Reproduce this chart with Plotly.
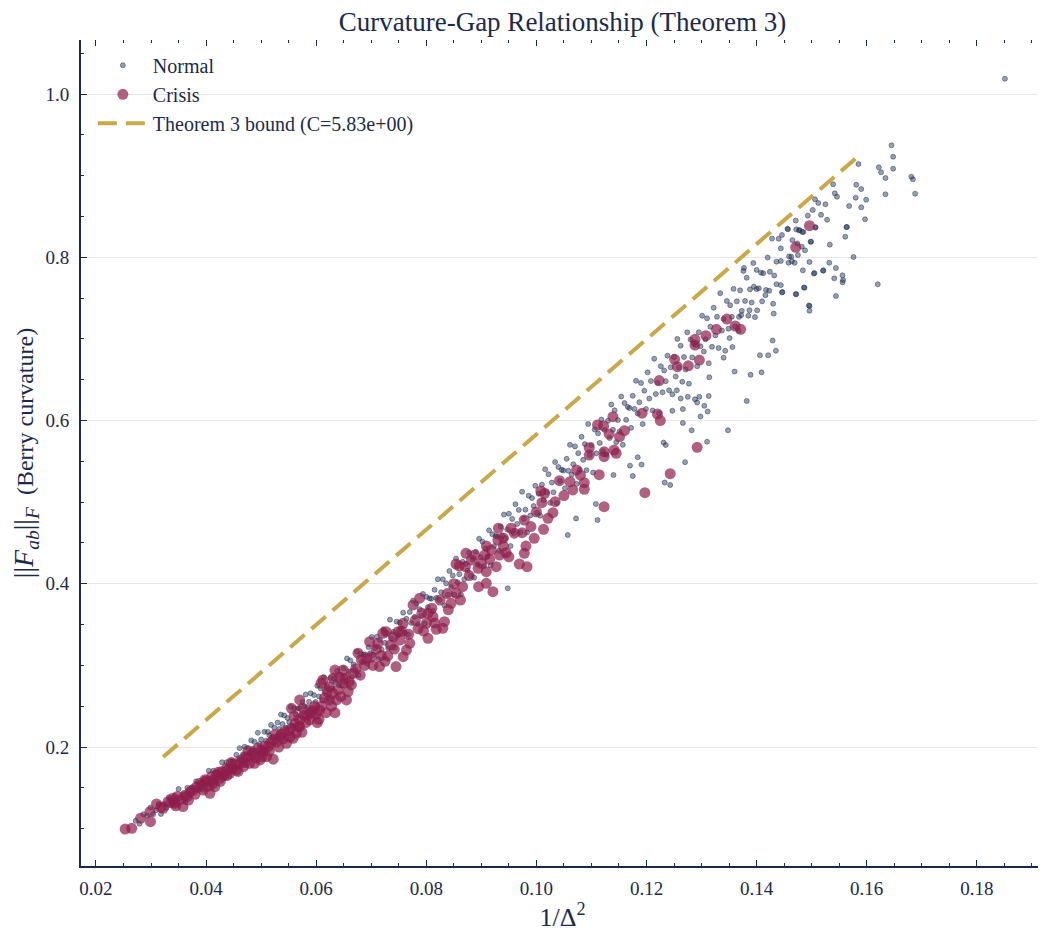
import plotly.graph_objects as go

# ---------------- data ----------------
# main band of normal observations
normal_x = [
    0.0272, 0.0279, 0.0286, 0.0293, 0.0299,
    0.0304, 0.0309, 0.0314, 0.0318, 0.0323, 0.0328, 0.0332, 0.0337, 0.0341, 0.0346,
    0.0350, 0.0354, 0.0358, 0.0362, 0.0366, 0.0370, 0.0374, 0.0378, 0.0382, 0.0386, 0.0390, 0.0394, 0.0397,
    0.0401, 0.0405, 0.0409, 0.0413, 0.0417, 0.0421, 0.0425, 0.0429, 0.0433, 0.0437, 0.0441, 0.0445, 0.0448,
    0.0452, 0.0455, 0.0458, 0.0461, 0.0464, 0.0467, 0.0470, 0.0473, 0.0476, 0.0479, 0.0482, 0.0485, 0.0488, 0.0491, 0.0494, 0.0497,
    0.0500, 0.0503, 0.0506, 0.0509, 0.0512, 0.0515, 0.0518, 0.0521, 0.0524, 0.0527, 0.0530, 0.0533, 0.0536, 0.0539, 0.0542, 0.0545, 0.0548,
    0.0551, 0.0554, 0.0557, 0.0560, 0.0563, 0.0566, 0.0569, 0.0572, 0.0575, 0.0578, 0.0581, 0.0584, 0.0587, 0.0590, 0.0593, 0.0596, 0.0599,
    0.0602, 0.0605, 0.0608, 0.0611, 0.0614, 0.0617, 0.0620, 0.0623, 0.0626, 0.0629, 0.0632, 0.0635, 0.0638, 0.0641, 0.0644, 0.0647,
    0.0650, 0.0653, 0.0656, 0.0659, 0.0662, 0.0665, 0.0668, 0.0671, 0.0674, 0.0677, 0.0680, 0.0683, 0.0686, 0.0689, 0.0692, 0.0695, 0.0698,
    0.0701, 0.0704, 0.0707, 0.0710, 0.0713, 0.0716, 0.0719, 0.0722, 0.0725, 0.0728, 0.0731, 0.0734, 0.0737, 0.0740, 0.0743, 0.0746, 0.0749,
    0.0752, 0.0755, 0.0758, 0.0761, 0.0764, 0.0767, 0.0770, 0.0773, 0.0776, 0.0779, 0.0782, 0.0785, 0.0788, 0.0791, 0.0794, 0.0797,
    0.0800, 0.0803, 0.0806, 0.0809, 0.0812, 0.0815, 0.0818, 0.0821, 0.0824, 0.0827, 0.0830, 0.0833, 0.0836, 0.0839, 0.0842, 0.0845, 0.0848,
    0.0851, 0.0854, 0.0857, 0.0860, 0.0863, 0.0866, 0.0869, 0.0872, 0.0875, 0.0878, 0.0881, 0.0884, 0.0887, 0.0890, 0.0893, 0.0896, 0.0899,
    0.0902, 0.0905, 0.0908, 0.0911, 0.0914, 0.0917, 0.0920, 0.0923, 0.0926, 0.0929, 0.0932, 0.0935, 0.0938, 0.0941, 0.0944, 0.0947,
    0.0950, 0.0953, 0.0956, 0.0959, 0.0962, 0.0965, 0.0968, 0.0971, 0.0974, 0.0977, 0.0980, 0.0983, 0.0986, 0.0989, 0.0992, 0.0995, 0.0998,
    0.1001, 0.1004, 0.1007, 0.1010, 0.1013, 0.1016, 0.1019, 0.1022, 0.1025, 0.1028, 0.1031, 0.1034, 0.1037, 0.1040, 0.1043, 0.1046, 0.1049,
    0.1052, 0.1055, 0.1058, 0.1061, 0.1064, 0.1067, 0.1070, 0.1073, 0.1076, 0.1079, 0.1082, 0.1085, 0.1088, 0.1091, 0.1094, 0.1097,
    0.1100, 0.1103, 0.1106, 0.1109, 0.1112, 0.1115, 0.1118, 0.1121, 0.1124, 0.1127, 0.1130, 0.1133, 0.1136, 0.1139, 0.1142, 0.1145, 0.1148,
    0.1151, 0.1154, 0.1157, 0.1160, 0.1163, 0.1166, 0.1169, 0.1172, 0.1175, 0.1178, 0.1181, 0.1184, 0.1187, 0.1190, 0.1193, 0.1196, 0.1199,
    0.1202, 0.1205, 0.1208, 0.1211, 0.1214, 0.1217, 0.1220, 0.1223, 0.1226, 0.1229, 0.1232, 0.1235, 0.1238, 0.1241, 0.1244, 0.1247,
    0.1250, 0.1253, 0.1256, 0.1259, 0.1262, 0.1265, 0.1268, 0.1271, 0.1274, 0.1277, 0.1280, 0.1283, 0.1286, 0.1289, 0.1292, 0.1295, 0.1298,
    0.1301, 0.1304, 0.1307, 0.1310, 0.1313, 0.1316, 0.1319, 0.1322, 0.1325, 0.1328, 0.1331, 0.1334, 0.1337, 0.1340, 0.1343, 0.1346, 0.1349,
    0.1352, 0.1355, 0.1358, 0.1361, 0.1364, 0.1367, 0.1370, 0.1373, 0.1376, 0.1379, 0.1382, 0.1385, 0.1388, 0.1391, 0.1394, 0.1397,
    0.1400, 0.1404, 0.1408, 0.1412, 0.1416, 0.1420, 0.1424, 0.1428, 0.1432, 0.1436, 0.1440, 0.1444,
    # points below the band
    0.0948, 0.1057, 0.1072, 0.1108, 0.1111, 0.1140, 0.1170, 0.1175, 0.1184, 0.1191,
    0.1231, 0.1233, 0.1235, 0.1243, 0.1247, 0.1255, 0.1262, 0.1266, 0.1266, 0.1270,
    0.1275, 0.1282, 0.1288, 0.1292, 0.1296, 0.1298, 0.1305, 0.1310, 0.1311, 0.1313,
    0.1314, 0.1340, 0.1348, 0.1351, 0.1356, 0.1360, 0.1382, 0.1389, 0.1406, 0.1409,
    0.1421, 0.1429, 0.1435,
    # upper-right sparse region
    0.1377, 0.1395, 0.1400, 0.1401, 0.1410, 0.1417, 0.1423, 0.1430, 0.1431, 0.1436,
    0.1372, 0.1368, 0.1387,
    0.1444, 0.1444, 0.1446, 0.1446, 0.1447, 0.1456, 0.1457, 0.1458, 0.1459, 0.1463,
    0.1464, 0.1465, 0.1469, 0.1471, 0.1471, 0.1472, 0.1472, 0.1474, 0.1475, 0.1477,
    0.1478, 0.1482, 0.1483, 0.1484, 0.1485, 0.1486, 0.1487, 0.1488, 0.1493, 0.1495,
    0.1496, 0.1496, 0.1496, 0.1498, 0.1499, 0.1502, 0.1504, 0.1505, 0.1506, 0.1507,
    0.1507, 0.1512, 0.1517, 0.1521, 0.1521, 0.1525, 0.1528, 0.1532, 0.1533, 0.1539,
    0.1541, 0.1542, 0.1544, 0.1544, 0.1546, 0.1556, 0.1557, 0.1556, 0.1561, 0.1563,
    0.1564, 0.1568, 0.1576, 0.1580, 0.1581, 0.1585, 0.1590, 0.1590, 0.1597, 0.1599,
    0.1620, 0.1622, 0.1626, 0.1634, 0.1634, 0.1645, 0.1648, 0.1648, 0.1681, 0.1684,
    0.1688, 0.1851,
]
normal_y = [
    0.1096, 0.1060, 0.1175, 0.1159, 0.1259,
    0.1175, 0.1226, 0.1302, 0.1179, 0.1301, 0.1256, 0.1383, 0.1315, 0.1380, 0.1301,
    0.1485, 0.1372, 0.1421, 0.1326, 0.1501, 0.1420, 0.1507, 0.1480, 0.1580, 0.1469, 0.1560, 0.1476, 0.1612,
    0.1554, 0.1709, 0.1614, 0.1709, 0.1588, 0.1694, 0.1660, 0.1813, 0.1634, 0.1813, 0.1759, 0.1824, 0.1827,
    0.1756, 0.1904, 0.1856, 0.1986, 0.1853, 0.1910, 0.2003, 0.1834, 0.1987, 0.1917, 0.2081, 0.1980, 0.2064, 0.1948, 0.2175, 0.2035,
    0.2092, 0.1963, 0.2186, 0.2077, 0.2185, 0.2145, 0.2271, 0.2122, 0.2236, 0.2122, 0.2299, 0.2222, 0.2398, 0.2281, 0.2386, 0.2236, 0.2355,
    0.2305, 0.2491, 0.2255, 0.2474, 0.2398, 0.2471, 0.2474, 0.2382, 0.2552, 0.2494, 0.2644, 0.2488, 0.2553, 0.2658, 0.2459, 0.2636, 0.2552,
    0.2750, 0.2620, 0.2720, 0.2573, 0.2854, 0.2676, 0.2742, 0.2591, 0.2846, 0.2717, 0.2840, 0.2791, 0.2933, 0.2759, 0.2888, 0.2754,
    0.2965, 0.2859, 0.3085, 0.2926, 0.3061, 0.2860, 0.3011, 0.2947, 0.3169, 0.2880, 0.3143, 0.3048, 0.3134, 0.3134, 0.3020, 0.3224, 0.3150,
    0.3349, 0.3129, 0.3213, 0.3351, 0.3076, 0.3311, 0.3191, 0.3443, 0.3276, 0.3399, 0.3209, 0.3560, 0.3331, 0.3411, 0.3217, 0.3536, 0.3368,
    0.3526, 0.3453, 0.3646, 0.3396, 0.3570, 0.3377, 0.3654, 0.3520, 0.3795, 0.3595, 0.3757, 0.3505, 0.3688, 0.3604, 0.3875, 0.3514,
    0.3840, 0.3713, 0.3821, 0.3817, 0.3666, 0.3926, 0.3827, 0.4056, 0.3801, 0.3896, 0.4055, 0.3734, 0.4005, 0.3865, 0.4156, 0.3960, 0.4102,
    0.3866, 0.4308, 0.4017, 0.4116, 0.3868, 0.4269, 0.4056, 0.4245, 0.4161, 0.4382, 0.4096, 0.4296, 0.4075, 0.4392, 0.4238, 0.4552, 0.4325,
    0.4516, 0.4216, 0.4433, 0.4333, 0.4655, 0.4225, 0.4607, 0.4462, 0.4585, 0.4579, 0.4406, 0.4701, 0.4588, 0.4848, 0.4558, 0.4665,
    0.4858, 0.4462, 0.4794, 0.4620, 0.4975, 0.4733, 0.4905, 0.4631, 0.5127, 0.4799, 0.4908, 0.4629, 0.5079, 0.4837, 0.5050, 0.4954, 0.5200,
    0.4867, 0.5104, 0.4834, 0.5214, 0.5025, 0.5402, 0.5122, 0.5342, 0.4991, 0.5240, 0.5121, 0.5491, 0.4989, 0.5429, 0.5258, 0.5396, 0.5387,
    0.5171, 0.5531, 0.5385, 0.5702, 0.5338, 0.5465, 0.5683, 0.5224, 0.5600, 0.5396, 0.5800, 0.5518, 0.5711, 0.5392, 0.5958, 0.5577,
    0.5699, 0.5363, 0.5889, 0.5598, 0.5843, 0.5725, 0.6012, 0.5624, 0.5883, 0.5581, 0.5997, 0.5785, 0.6197, 0.5886, 0.6125, 0.5735, 0.6006,
    0.5864, 0.6295, 0.5702, 0.6214, 0.6009, 0.6167, 0.6153, 0.5910, 0.6303, 0.6142, 0.6487, 0.6086, 0.6224, 0.6460, 0.5956, 0.6366, 0.6141,
    0.6590, 0.6269, 0.6484, 0.6122, 0.6757, 0.6325, 0.6460, 0.6090, 0.6666, 0.6346, 0.6614, 0.6482, 0.6795, 0.6370, 0.6652, 0.6321,
    0.6778, 0.6538, 0.7000, 0.6649, 0.6917, 0.6475, 0.6778, 0.6624, 0.7080, 0.6451, 0.6992, 0.6773, 0.6940, 0.6924, 0.6666, 0.7081, 0.6909,
    0.7284, 0.6845, 0.6995, 0.7252, 0.6703, 0.7149, 0.6903, 0.7382, 0.7043, 0.7271, 0.6888, 0.7560, 0.7103, 0.7245, 0.6855, 0.7464, 0.7125,
    0.7413, 0.7271, 0.7613, 0.7152, 0.7460, 0.7102, 0.7595, 0.7344, 0.7833, 0.7465, 0.7749, 0.7284, 0.7607, 0.7446, 0.7929, 0.7267,
    0.7845, 0.7620, 0.7811, 0.7805, 0.7536, 0.7997, 0.7822, 0.8229, 0.7777, 0.7946, 0.8227, 0.7659,
    # points below the band
    0.3944, 0.4597, 0.4800, 0.4977, 0.4780, 0.5332, 0.5447, 0.5320, 0.5550, 0.5460,
    0.5730, 0.5240, 0.5700, 0.5210, 0.6120, 0.6370, 0.6270, 0.5970, 0.6140, 0.5490,
    0.6290, 0.5880, 0.6260, 0.6220, 0.6290, 0.6050, 0.6180, 0.5740, 0.6110, 0.6300,
    0.6530, 0.6770, 0.5880, 0.7010, 0.6900, 0.6600, 0.6240, 0.6560, 0.6800, 0.6590,
    0.6800, 0.6980, 0.6855,
    # upper-right sparse region
    0.7870, 0.7640, 0.7610, 0.7350, 0.7460, 0.7600, 0.7590, 0.7430, 0.7310, 0.7670,
    0.7290, 0.7270, 0.7350,
    0.8110, 0.7954, 0.8273, 0.7570, 0.7574, 0.8350, 0.8342, 0.7933, 0.8010, 0.8007,
    0.7950, 0.8210, 0.7933, 0.8450, 0.7550, 0.8342, 0.7546, 0.8170, 0.8028, 0.8330,
    0.8334, 0.8130, 0.8310, 0.7840, 0.8309, 0.7630, 0.7627, 0.8085, 0.8510, 0.7410,
    0.7942, 0.7403, 0.7345, 0.8190, 0.8191, 0.8580, 0.7800, 0.7807, 0.8710, 0.8362,
    0.8370, 0.8665, 0.8520, 0.7835, 0.7840, 0.8650, 0.8460, 0.7933, 0.8154, 0.8894,
    0.7742, 0.8783, 0.7868, 0.7525, 0.8742, 0.7779, 0.7721, 0.7693, 0.8252, 0.8370,
    0.8371, 0.8628, 0.8003, 0.8730, 0.8889, 0.9142, 0.8836, 0.8612, 0.8465, 0.8705,
    0.7669, 0.9102, 0.9041, 0.8971, 0.8771, 0.9371, 0.9232, 0.9085, 0.8987, 0.8955,
    0.8779, 1.0187,
]

crisis_x = [
    0.0253, 0.0265, 0.0281, 0.0299, 0.0298, 0.0310, 0.0322, 0.0331, 0.0340, 0.0343,
    0.0352, 0.0358, 0.0371, 0.0365, 0.0383, 0.0389, 0.0401, 0.0413, 0.0419, 0.0425,
    0.0428, 0.0416, 0.0395, 0.0407, 0.0437, 0.0449, 0.0455, 0.0443, 0.0461, 0.0473,
    0.0479, 0.0485, 0.0494, 0.0504, 0.0513, 0.0522, 0.0498, 0.0510, 0.0522, 0.0534,
    0.0543, 0.0555, 0.0570, 0.0564, 0.0546, 0.0558, 0.0555, 0.0570, 0.0576, 0.0585,
    0.0594, 0.0606, 0.0605, 0.0588, 0.0570, 0.0609, 0.0624, 0.0630, 0.0637, 0.0634,
    0.0649, 0.0655, 0.0624, 0.0649, 0.0652, 0.0667, 0.0631, 0.0612, 0.0634, 0.0676,
    0.0682, 0.0709, 0.0730, 0.0745, 0.0715, 0.0697, 0.0727, 0.0721, 0.0758, 0.0749,
    0.0752, 0.0770, 0.0764, 0.0758, 0.0788, 0.0776, 0.0803, 0.0812, 0.0800, 0.0833,
    0.0830, 0.0818, 0.0803, 0.0921, 0.0909, 0.0895, 0.0866, 0.0854, 0.0845, 0.0909,
    0.0918, 0.0906, 0.0933, 0.0927, 0.0909, 0.0894, 0.0888, 0.0872, 0.0882, 0.0854,
    0.0860, 0.0871, 0.0996, 0.0981, 0.0978, 0.0969, 0.0983, 0.0974, 0.0954, 0.0931,
    0.0930, 0.0940, 0.0945, 0.0950, 0.1015, 0.1021, 0.1013, 0.0978, 0.1008, 0.1010,
    0.1034, 0.1030, 0.1042, 0.1061, 0.1066, 0.1087, 0.1087, 0.1073, 0.1114, 0.1096,
    0.1123, 0.1141, 0.1145, 0.1096, 0.1123, 0.1132, 0.1151, 0.1160, 0.1111, 0.1122,
    0.1139, 0.1192, 0.1220, 0.1225, 0.1223, 0.1251, 0.1256, 0.1276, 0.1296, 0.1288,
    0.1288, 0.1308, 0.1327, 0.1346, 0.1361, 0.1371, 0.1471, 0.1496, 0.1292, 0.1243,
    0.1197, 0.1123,
    0.0318, 0.0336, 0.0348, 0.0362, 0.0376, 0.0392, 0.0404, 0.0410, 0.0422, 0.0432,
    0.0440, 0.0452, 0.0466, 0.0470, 0.0482, 0.0490, 0.0500, 0.0507, 0.0517, 0.0528,
    0.0537, 0.0550, 0.0562, 0.0578, 0.0581, 0.0597, 0.0600, 0.0615, 0.0620, 0.0640,
    0.0645, 0.0660, 0.0672, 0.0688, 0.0700, 0.0712, 0.0735, 0.0740, 0.0780, 0.0792,
    0.0810, 0.0825, 0.0838, 0.0850, 0.0878, 0.0900, 0.0915, 0.0940, 0.0960, 0.0990,
    0.1000, 0.1050, 0.1080,
    0.0345, 0.0368, 0.0380, 0.0398, 0.0412, 0.0426, 0.0438, 0.0446, 0.0458, 0.0468,
    0.0476, 0.0488, 0.0502, 0.0515, 0.0525, 0.0532, 0.0540, 0.0552, 0.0560, 0.0568,
    0.0574, 0.0590, 0.0602, 0.0610, 0.0618, 0.0628, 0.0642, 0.0658, 0.0664, 0.0680,
    0.0692, 0.0703, 0.0718, 0.0725, 0.0742, 0.0755, 0.0768, 0.0785, 0.0795, 0.0815,
    0.0840, 0.0862,
]
crisis_y = [
    0.0995, 0.1004, 0.1127, 0.1085, 0.1207, 0.1302, 0.1249, 0.1330, 0.1372, 0.1310,
    0.1351, 0.1270, 0.1453, 0.1392, 0.1514, 0.1555, 0.1575, 0.1596, 0.1657, 0.1616,
    0.1698, 0.1514, 0.1473, 0.1433, 0.1739, 0.1739, 0.1718, 0.1678, 0.1800, 0.1882,
    0.1800, 0.1923, 0.1984, 0.1943, 0.2004, 0.1851, 0.1841, 0.1882, 0.2086, 0.2127,
    0.2188, 0.2229, 0.2249, 0.2168, 0.2045, 0.2106, 0.2474, 0.2576, 0.2474, 0.2392,
    0.2453, 0.2453, 0.2339, 0.2331, 0.2331, 0.2780, 0.2739, 0.2658, 0.2576, 0.2420,
    0.2780, 0.2576, 0.2576, 0.2943, 0.2842, 0.2903, 0.2842, 0.2821, 0.2943, 0.3149,
    0.3067, 0.3198, 0.3116, 0.2986, 0.2986, 0.3291, 0.3413, 0.3393, 0.3515, 0.3413,
    0.3311, 0.3270, 0.3188, 0.3107, 0.3823, 0.3740, 0.3638, 0.3597, 0.3515, 0.3536,
    0.3454, 0.3442, 0.3332, 0.3903, 0.4005, 0.3964, 0.3964, 0.3883, 0.3760, 0.4462,
    0.4413, 0.4352, 0.4352, 0.4209, 0.4148, 0.4189, 0.4352, 0.4373, 0.4291, 0.4242,
    0.4217, 0.4209, 0.4557, 0.4462, 0.4373, 0.4242, 0.4209, 0.4626, 0.4680, 0.4680,
    0.4536, 0.4462, 0.4380, 0.4330, 0.5108, 0.4802, 0.4667, 0.4781, 0.5136, 0.4993,
    0.5005, 0.4871, 0.5263, 0.5250, 0.5149, 0.5238, 0.5158, 0.5394, 0.5336, 0.5667,
    0.5618, 0.5638, 0.5598, 0.5577, 0.5557, 0.5835, 0.5800, 0.5875, 0.5945, 0.5933,
    0.6047, 0.6090, 0.6080, 0.6000, 0.6490, 0.6750, 0.6660, 0.6670, 0.6740, 0.6995,
    0.6925, 0.7040, 0.7117, 0.7243, 0.7158, 0.7117, 0.8122, 0.8387, 0.5672, 0.5349,
    0.5116, 0.4944,
    0.1262, 0.1318, 0.1395, 0.1410, 0.1470, 0.1530, 0.1520, 0.1640, 0.1690, 0.1650,
    0.1720, 0.1780, 0.1850, 0.1810, 0.1900, 0.1870, 0.1960, 0.2010, 0.2050, 0.2060,
    0.2160, 0.2200, 0.2290, 0.2390, 0.2300, 0.2500, 0.2400, 0.2600, 0.2680, 0.2700,
    0.2620, 0.2800, 0.2960, 0.3000, 0.3100, 0.3270, 0.3250, 0.3350, 0.3550, 0.3640,
    0.3700, 0.3800, 0.3880, 0.4000, 0.4100, 0.4250, 0.4300, 0.4560, 0.4620, 0.4700,
    0.4880, 0.5080, 0.5330,
    0.1280, 0.1350, 0.1420, 0.1600, 0.1550, 0.1580, 0.1650, 0.1810, 0.1700, 0.1760,
    0.1950, 0.1800, 0.1880, 0.1950, 0.2150, 0.2000, 0.2100, 0.2120, 0.2380, 0.2250,
    0.2180, 0.2420, 0.2300, 0.2500, 0.2420, 0.2500, 0.2850, 0.2680, 0.2760, 0.2880,
    0.3080, 0.3000, 0.3120, 0.3050, 0.3200, 0.3420, 0.3380, 0.3450, 0.3420, 0.3520,
    0.3680, 0.3800,
]

bound_x = [0.0322, 0.1586]
bound_y = [0.1877, 0.9246]
bound_label = "Theorem 3 bound (C=5.83e+00)"

title_text = "Curvature-Gap Relationship (Theorem 3)"
x_title = "1/Δ<sup>2</sup>"
y_title = ("<span style='font-size:28px'>||<i>F</i><sub><i>ab</i></sub>||<sub><i>F</i></sub></span>"
           "  (Berry curvature)")

# ---------------- styling ----------------
NAVY = "#1c2a4a"
FONT = "Liberation Serif, Times New Roman, serif"
NORMAL_FILL = "rgba(30,45,80,0.46)"
CRISIS_FILL = "rgba(142,28,74,0.70)"
GOLD = "#c9a84a"

fig = go.Figure()

fig.add_trace(go.Scatter(
    x=normal_x, y=normal_y, mode="markers", name="Normal",
    marker=dict(size=5, color=NORMAL_FILL, line=dict(width=1, color=NORMAL_FILL)),
))
fig.add_trace(go.Scatter(
    x=crisis_x, y=crisis_y, mode="markers", name="Crisis",
    marker=dict(size=11, color=CRISIS_FILL, line=dict(width=0)),
))
fig.add_trace(go.Scatter(
    x=bound_x, y=bound_y, mode="lines", name=bound_label,
    line=dict(color=GOLD, width=4, dash="19px,9px"),
))
# empty trace so that the mirrored (top/right) tick axes are drawn
fig.add_trace(go.Scatter(x=[], y=[], xaxis="x2", yaxis="y2", showlegend=False, hoverinfo="skip"))

x_range = [0.01728, 0.1922]
y_range = [0.0542, 1.0662]

common_tick = dict(ticks="inside", ticklen=6, tickwidth=1.3, tickcolor=NAVY, zeroline=False, automargin=False)

fig.update_layout(
    width=1038, height=926,
    margin=dict(l=73, r=2, t=32, b=68),
    paper_bgcolor="white", plot_bgcolor="white",
    font=dict(family=FONT, color=NAVY, size=19),
    title=dict(text=title_text, x=0.5, xref="paper", y=0.9858, yref="container",
               yanchor="middle", xanchor="center", font=dict(size=27, color=NAVY, family=FONT)),
    showlegend=True,
    legend=dict(x=0.0123, y=0.993, xanchor="left", yanchor="top", bgcolor="rgba(0,0,0,0)",
                font=dict(size=20, color=NAVY, family=FONT), itemwidth=50),
    xaxis=dict(range=x_range, dtick=0.02, tick0=0, tickformat=".2f", showgrid=False,
               showline=True, linecolor=NAVY, linewidth=2, **common_tick, ticklabelstandoff=4,
               minor=dict(ticks="inside", ticklen=3, tickwidth=1, tickcolor=NAVY, dtick=0.005, tick0=0, showgrid=False),
               tickfont=dict(size=19, color=NAVY, family=FONT),
               title=dict(text=x_title, font=dict(size=26, color=NAVY, family=FONT), standoff=8)),
    yaxis=dict(range=y_range, dtick=0.2, tick0=0, tickformat=".1f", showgrid=True,
               gridcolor="#e6e6ea", gridwidth=1,
               showline=True, linecolor=NAVY, linewidth=2, **common_tick, ticklabelstandoff=6,
               minor=dict(ticks="inside", ticklen=3, tickwidth=1, tickcolor=NAVY, dtick=0.05, tick0=0, showgrid=False),
               tickfont=dict(size=19, color=NAVY, family=FONT),
               title=dict(text=y_title, font=dict(size=24, color=NAVY, family=FONT), standoff=12)),
    xaxis2=dict(overlaying="x", matches="x", side="top", anchor="y2", range=x_range, dtick=0.02, tick0=0,
                showticklabels=False, showline=False, showgrid=False, **common_tick,
                minor=dict(ticks="inside", ticklen=3, tickwidth=1, tickcolor=NAVY, dtick=0.005, tick0=0, showgrid=False)),
    yaxis2=dict(overlaying="y", matches="y", side="right", anchor="x2", range=y_range, dtick=0.2, tick0=0,
                showticklabels=False, showline=False, showgrid=False, **common_tick,
                minor=dict(ticks="inside", ticklen=3, tickwidth=1, tickcolor=NAVY, dtick=0.05, tick0=0, showgrid=False)),
)

fig.write_html("out.html")
